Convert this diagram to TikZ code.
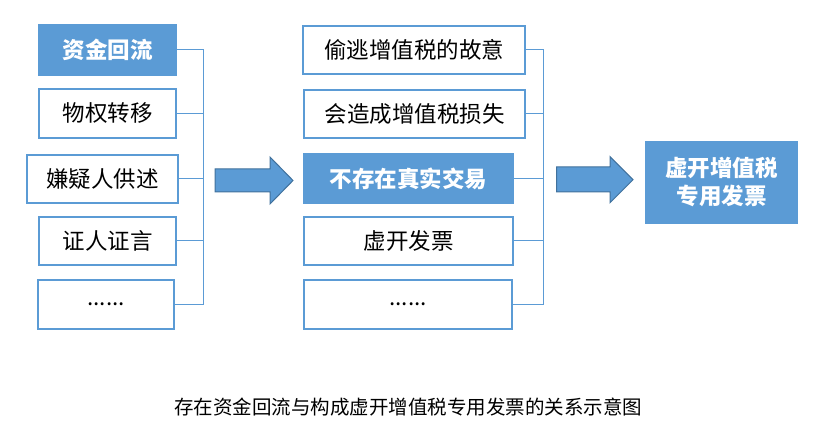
\documentclass[tikz,border=0pt]{standalone}
\usepackage{fontspec}
\setmainfont{Noto Sans CJK SC}
\newfontfamily\cjk{Noto Sans CJK SC}
\definecolor{boxblue}{HTML}{5B9BD5}
\definecolor{arrowedge}{HTML}{41719C}
\begin{document}
\begin{tikzpicture}[x=1pt,y=-1pt,
  box/.style={draw=boxblue,line width=2pt,fill=white,inner sep=0pt,font=\cjk\fontsize{22.5}{26}\selectfont,text=black},
  hot/.style={fill=boxblue,draw=none,inner sep=0pt,font=\cjk\bfseries\fontsize{22.5}{28}\selectfont,text=white,align=center},
  link/.style={draw=boxblue,line width=1pt},
  bigarrow/.style={fill=boxblue,draw=arrowedge,line width=1pt,line join=miter}]
\useasboundingbox (0,0) rectangle (826,435);
% left column
\node[hot,minimum width=139pt,minimum height=52pt] (l1) at (107.5,50) {资金回流};
\node[box,minimum width=137pt,minimum height=49pt] (l2) at (107.5,113.5) {物权转移};
\node[box,minimum width=151pt,minimum height=48pt] (l3) at (102.3,179) {嫌疑人供述};
\node[box,minimum width=137pt,minimum height=48pt] (l4) at (107.5,241) {证人证言};
\node[box,minimum width=136pt,minimum height=49pt] (l5) at (106,304.5) {......};
\coordinate (bl) at (203.5,0);
\foreach \n in {l1,l2,l3,l4,l5} \draw[link] (\n.east) -- (\n.east -| bl);
\draw[link] (l1.east -| bl) -- (l5.east -| bl);
% middle column
\node[box,minimum width=222pt,minimum height=48pt] (m1) at (414,50) {偷逃增值税的故意};
\node[box,minimum width=221pt,minimum height=48pt] (m2) at (414.5,114) {会造成增值税损失};
\node[hot,minimum width=211pt,minimum height=51pt] (m3) at (408.5,178.5) {不存在真实交易};
\node[box,minimum width=209pt,minimum height=48pt] (m4) at (408.5,241) {虚开发票};
\node[box,minimum width=208pt,minimum height=49pt] (m5) at (408,304.5) {......};
\coordinate (bm) at (543.5,0);
\foreach \n in {m1,m2,m3,m4,m5} \draw[link] (\n.east) -- (\n.east -| bm);
\draw[link] (m1.east -| bm) -- (m5.east -| bm);
% final box
\node[hot,minimum width=153pt,minimum height=83pt] (f) at (721.5,182.3) {虚开增值税\\专用发票};
% arrows
\draw[bigarrow] (215,169) -- (270,169) -- (270,157) -- (293,180.5) -- (270,204) -- (270,192) -- (215,192) -- cycle;
\draw[bigarrow] (556.7,167) -- (610,167) -- (610,156.7) -- (633,179.7) -- (610,202.7) -- (610,192) -- (556.7,192) -- cycle;
% caption
\node[font=\cjk\fontsize{19.5}{22}\selectfont,inner sep=0pt] (cap) at (408,407) {存在资金回流与构成虚开增值税专用发票的关系示意图};
\end{tikzpicture}
\end{document}
